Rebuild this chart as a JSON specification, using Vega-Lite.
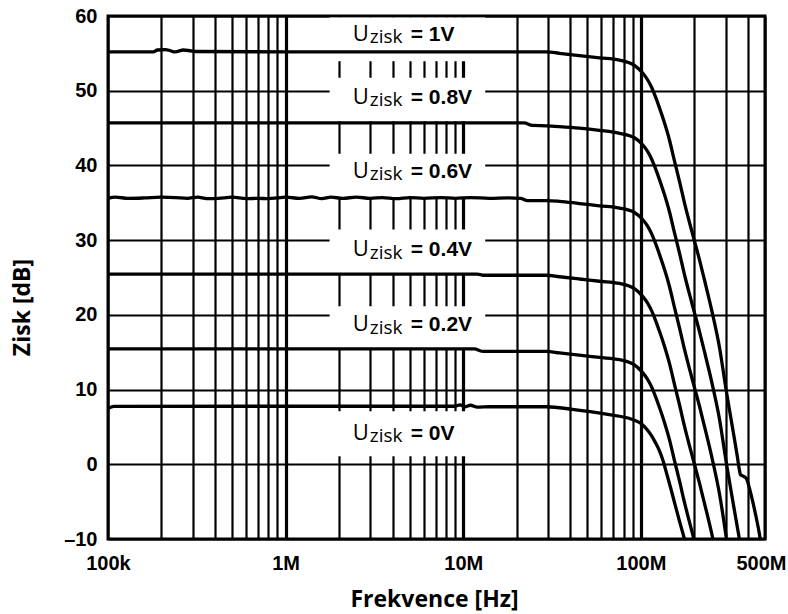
{
  "$schema": "https://vega.github.io/schema/vega-lite/v6.json",
  "autosize": {"type": "none"},
  "width": 657,
  "height": 523,
  "padding": {"left": 108, "top": 16, "right": 23, "bottom": 75},
  "background": "white",
  "config": {
    "view": {"stroke": "black", "strokeWidth": 3},
    "font": "Liberation Sans"
  },
  "datasets": {
    "curves": [
      {"s":"1V","f":100000,"g":55.2},{"s":"1V","f":180000,"g":55.2},{"s":"1V","f":190000,"g":55.45},{"s":"1V","f":210000,"g":55.5},{"s":"1V","f":225000,"g":55.35},{"s":"1V","f":235000,"g":55.2},{"s":"1V","f":250000,"g":55.3},{"s":"1V","f":265000,"g":55.45},{"s":"1V","f":290000,"g":55.35},{"s":"1V","f":310000,"g":55.25},{"s":"1V","f":1000000,"g":55.2},{"s":"1V","f":10000000,"g":55.2},{"s":"1V","f":29400000,"g":55.2},{"s":"1V","f":34800000,"g":55.0},{"s":"1V","f":45100000,"g":54.7},{"s":"1V","f":58500000,"g":54.4},{"s":"1V","f":75800000,"g":54.1},{"s":"1V","f":92000000,"g":53.4},{"s":"1V","f":102100000,"g":52.4},{"s":"1V","f":108900000,"g":51.5},{"s":"1V","f":114700000,"g":50.5},{"s":"1V","f":120800000,"g":49.2},{"s":"1V","f":127300000,"g":47.7},{"s":"1V","f":135800000,"g":45.7},{"s":"1V","f":144900000,"g":43.4},{"s":"1V","f":154600000,"g":40.6},{"s":"1V","f":164900000,"g":37.9},{"s":"1V","f":176000000,"g":35.0},{"s":"1V","f":187700000,"g":32.4},{"s":"1V","f":200300000,"g":29.9},{"s":"1V","f":213700000,"g":27.4},{"s":"1V","f":228000000,"g":24.7},{"s":"1V","f":252900000,"g":20.2},{"s":"1V","f":276900000,"g":15.7},{"s":"1V","f":303200000,"g":9.7},{"s":"1V","f":332000000,"g":4.2},{"s":"1V","f":350000000,"g":0.9},{"s":"1V","f":359000000,"g":-0.8},{"s":"1V","f":364000000,"g":-1.4},{"s":"1V","f":378000000,"g":-1.6},{"s":"1V","f":393000000,"g":-1.9},{"s":"1V","f":408600000,"g":-3.2},{"s":"1V","f":424600000,"g":-4.8},{"s":"1V","f":441400000,"g":-6.6},{"s":"1V","f":464800000,"g":-9.3},{"s":"1V","f":470000000,"g":-10},
      {"s":"0.8V","f":100000,"g":45.7},{"s":"0.8V","f":1000000,"g":45.7},{"s":"0.8V","f":10000000,"g":45.7},{"s":"0.8V","f":22000000,"g":45.7},{"s":"0.8V","f":24500000,"g":45.35},{"s":"0.8V","f":29400000,"g":45.3},{"s":"0.8V","f":34800000,"g":45.2},{"s":"0.8V","f":45100000,"g":45.0},{"s":"0.8V","f":58500000,"g":44.7},{"s":"0.8V","f":75800000,"g":44.3},{"s":"0.8V","f":92000000,"g":43.7},{"s":"0.8V","f":102100000,"g":42.8},{"s":"0.8V","f":108900000,"g":41.9},{"s":"0.8V","f":114700000,"g":40.9},{"s":"0.8V","f":120800000,"g":39.6},{"s":"0.8V","f":127300000,"g":38.1},{"s":"0.8V","f":135800000,"g":36.1},{"s":"0.8V","f":144900000,"g":33.8},{"s":"0.8V","f":154600000,"g":31.0},{"s":"0.8V","f":164900000,"g":28.3},{"s":"0.8V","f":176000000,"g":25.4},{"s":"0.8V","f":187700000,"g":22.8},{"s":"0.8V","f":200300000,"g":20.3},{"s":"0.8V","f":213700000,"g":17.8},{"s":"0.8V","f":228000000,"g":15.1},{"s":"0.8V","f":252900000,"g":10.6},{"s":"0.8V","f":276900000,"g":6.1},{"s":"0.8V","f":303200000,"g":0.1},{"s":"0.8V","f":332000000,"g":-5.4},{"s":"0.8V","f":358800000,"g":-10},
      {"s":"0.6V","f":100000,"g":35.6},{"s":"0.6V","f":110000,"g":35.75},{"s":"0.6V","f":130000,"g":35.6},{"s":"0.6V","f":160000,"g":35.65},{"s":"0.6V","f":200000,"g":35.75},{"s":"0.6V","f":240000,"g":35.7},{"s":"0.6V","f":280000,"g":35.6},{"s":"0.6V","f":320000,"g":35.75},{"s":"0.6V","f":360000,"g":35.55},{"s":"0.6V","f":420000,"g":35.6},{"s":"0.6V","f":500000,"g":35.75},{"s":"0.6V","f":600000,"g":35.55},{"s":"0.6V","f":700000,"g":35.6},{"s":"0.6V","f":800000,"g":35.55},{"s":"0.6V","f":900000,"g":35.65},{"s":"0.6V","f":1000000,"g":35.75},{"s":"0.6V","f":1200000,"g":35.6},{"s":"0.6V","f":1400000,"g":35.8},{"s":"0.6V","f":1600000,"g":35.55},{"s":"0.6V","f":1800000,"g":35.75},{"s":"0.6V","f":2100000,"g":35.6},{"s":"0.6V","f":2500000,"g":35.75},{"s":"0.6V","f":3000000,"g":35.6},{"s":"0.6V","f":3500000,"g":35.7},{"s":"0.6V","f":4200000,"g":35.55},{"s":"0.6V","f":5000000,"g":35.7},{"s":"0.6V","f":6000000,"g":35.6},{"s":"0.6V","f":7500000,"g":35.7},{"s":"0.6V","f":9000000,"g":35.6},{"s":"0.6V","f":11000000,"g":35.7},{"s":"0.6V","f":14000000,"g":35.6},{"s":"0.6V","f":18000000,"g":35.65},{"s":"0.6V","f":21000000,"g":35.6},{"s":"0.6V","f":23000000,"g":35.3},{"s":"0.6V","f":29400000,"g":35.3},{"s":"0.6V","f":34800000,"g":35.2},{"s":"0.6V","f":45100000,"g":34.9},{"s":"0.6V","f":58500000,"g":34.6},{"s":"0.6V","f":75800000,"g":34.3},{"s":"0.6V","f":92000000,"g":33.7},{"s":"0.6V","f":102100000,"g":32.8},{"s":"0.6V","f":108900000,"g":31.9},{"s":"0.6V","f":114700000,"g":30.9},{"s":"0.6V","f":120800000,"g":29.6},{"s":"0.6V","f":127300000,"g":28.1},{"s":"0.6V","f":135800000,"g":26.1},{"s":"0.6V","f":144900000,"g":23.8},{"s":"0.6V","f":154600000,"g":21.0},{"s":"0.6V","f":164900000,"g":18.3},{"s":"0.6V","f":176000000,"g":15.4},{"s":"0.6V","f":187700000,"g":12.8},{"s":"0.6V","f":200300000,"g":10.3},{"s":"0.6V","f":213700000,"g":7.8},{"s":"0.6V","f":228000000,"g":5.1},{"s":"0.6V","f":252900000,"g":0.6},{"s":"0.6V","f":276900000,"g":-3.9},{"s":"0.6V","f":303500000,"g":-10},
      {"s":"0.4V","f":100000,"g":25.45},{"s":"0.4V","f":1000000,"g":25.45},{"s":"0.4V","f":10000000,"g":25.45},{"s":"0.4V","f":12000000,"g":25.45},{"s":"0.4V","f":13000000,"g":25.3},{"s":"0.4V","f":29400000,"g":25.3},{"s":"0.4V","f":34800000,"g":25.1},{"s":"0.4V","f":45100000,"g":24.8},{"s":"0.4V","f":58500000,"g":24.5},{"s":"0.4V","f":75800000,"g":24.2},{"s":"0.4V","f":92000000,"g":23.5},{"s":"0.4V","f":102100000,"g":22.5},{"s":"0.4V","f":108900000,"g":21.6},{"s":"0.4V","f":114700000,"g":20.6},{"s":"0.4V","f":120800000,"g":19.3},{"s":"0.4V","f":127300000,"g":17.8},{"s":"0.4V","f":135800000,"g":15.8},{"s":"0.4V","f":144900000,"g":13.5},{"s":"0.4V","f":154600000,"g":10.7},{"s":"0.4V","f":164900000,"g":8.0},{"s":"0.4V","f":176000000,"g":5.1},{"s":"0.4V","f":187700000,"g":2.5},{"s":"0.4V","f":200300000,"g":0.0},{"s":"0.4V","f":213700000,"g":-2.5},{"s":"0.4V","f":228000000,"g":-5.2},{"s":"0.4V","f":252900000,"g":-9.7},{"s":"0.4V","f":254500000,"g":-10},
      {"s":"0.2V","f":100000,"g":15.45},{"s":"0.2V","f":1000000,"g":15.45},{"s":"0.2V","f":10000000,"g":15.45},{"s":"0.2V","f":11500000,"g":15.45},{"s":"0.2V","f":13000000,"g":15.1},{"s":"0.2V","f":29400000,"g":15.1},{"s":"0.2V","f":34800000,"g":14.9},{"s":"0.2V","f":45100000,"g":14.6},{"s":"0.2V","f":58500000,"g":14.3},{"s":"0.2V","f":75800000,"g":14.0},{"s":"0.2V","f":92000000,"g":13.3},{"s":"0.2V","f":102100000,"g":12.3},{"s":"0.2V","f":108900000,"g":11.4},{"s":"0.2V","f":114700000,"g":10.4},{"s":"0.2V","f":120800000,"g":9.1},{"s":"0.2V","f":127300000,"g":7.6},{"s":"0.2V","f":135800000,"g":5.6},{"s":"0.2V","f":144900000,"g":3.3},{"s":"0.2V","f":154600000,"g":0.5},{"s":"0.2V","f":164900000,"g":-2.2},{"s":"0.2V","f":176000000,"g":-5.1},{"s":"0.2V","f":187700000,"g":-7.7},{"s":"0.2V","f":199000000,"g":-10},
      {"s":"0V","f":100000,"g":7.45},{"s":"0V","f":108000,"g":7.75},{"s":"0V","f":1000000,"g":7.77},{"s":"0V","f":9000000,"g":7.77},{"s":"0V","f":9600000,"g":7.95},{"s":"0V","f":10200000,"g":7.7},{"s":"0V","f":11000000,"g":7.9},{"s":"0V","f":12000000,"g":7.65},{"s":"0V","f":14000000,"g":7.7},{"s":"0V","f":29400000,"g":7.7},{"s":"0V","f":41200000,"g":7.35},{"s":"0V","f":63800000,"g":6.7},{"s":"0V","f":89700000,"g":6.0},{"s":"0V","f":102100000,"g":5.3},{"s":"0V","f":108900000,"g":4.6},{"s":"0V","f":114300000,"g":3.9},{"s":"0V","f":120800000,"g":2.9},{"s":"0V","f":127300000,"g":1.8},{"s":"0V","f":132800000,"g":0.6},{"s":"0V","f":140000000,"g":-1.3},{"s":"0V","f":148100000,"g":-3.4},{"s":"0V","f":157000000,"g":-5.7},{"s":"0V","f":165000000,"g":-7.6},{"s":"0V","f":176000000,"g":-10}
    ],
    "boxes": [
      {"f":1769000,"f2":13300000,"g":59.8,"g2":53.95},
      {"f":1769000,"f2":13300000,"g":51.73,"g2":45.92},
      {"f":1769000,"f2":13300000,"g":41.56,"g2":35.67},
      {"f":1769000,"f2":13300000,"g":31.42,"g2":25.4},
      {"f":1769000,"f2":13300000,"g":21.16,"g2":15.36},
      {"f":1769000,"f2":13300000,"g":7.1,"g2":1.08}
    ],
    "labels": [
      {"f":5000000,"g":56.72,"t":"= 1V"},
      {"f":5000000,"g":48.25,"t":"= 0.8V"},
      {"f":5000000,"g":38.34,"t":"= 0.6V"},
      {"f":5000000,"g":27.85,"t":"= 0.4V"},
      {"f":5000000,"g":17.81,"t":"= 0.2V"},
      {"f":5000000,"g":3.31,"t":"= 0V"}
    ]
  },
  "encoding": {
    "x": {
      "field": "f", "type": "quantitative",
      "scale": {"type": "log", "domain": [100000, 500000000], "nice": false, "zero": false},
      "axis": {
        "title": "Frekvence [Hz]",
        "values": [100000,200000,300000,400000,500000,600000,700000,800000,900000,1000000,2000000,3000000,4000000,5000000,6000000,7000000,8000000,9000000,10000000,20000000,30000000,40000000,50000000,60000000,70000000,80000000,90000000,100000000,200000000,300000000,400000000,500000000],
        "labelExpr": "datum.value == 100000 ? '100k' : datum.value == 1000000 ? '1M' : datum.value == 10000000 ? '10M' : datum.value == 100000000 ? '100M' : datum.value == 500000000 ? '500M' : ''",
        "labelOverlap": false,
        "labelBound": false,
        "labelFlush": false,
        "labelFont": "Liberation Sans",
        "labelFontWeight": "bold",
        "labelFontSize": 20,
        "labelColor": "black",
        "labelPadding": 14,
        "labelBaseline": "top",
        "labelOffset": {"condition": {"test": "datum.value == 500000000", "value": -4}, "value": 0},
        "ticks": false,
        "tickSize": 0,
        "domain": false,
        "grid": true,
        "gridColor": "black",
        "gridOpacity": 1,
        "gridWidth": {"condition": {"test": "datum.value == 1000000 || datum.value == 10000000 || datum.value == 100000000", "value": 3.2}, "value": 2.2},
        "titleFont": "Open Sans",
        "titleFontWeight": "bold",
        "titleFontSize": 23,
        "titleColor": "black",
        "titleBaseline": "middle",
        "titleAlign": "center",
        "titleX": 326,
        "titleY": 60
      }
    },
    "y": {
      "field": "g", "type": "quantitative",
      "scale": {"domain": [-10, 60], "nice": false, "zero": false},
      "axis": {
        "title": "Zisk [dB]",
        "values": [-10,0,10,20,30,40,50,60],
        "labelExpr": "datum.value < 0 ? '\u2013' + abs(datum.value) : datum.label",
        "labelFont": "Liberation Sans",
        "labelFontWeight": "bold",
        "labelFontSize": 20,
        "labelColor": "black",
        "labelPadding": 11,
        "labelOverlap": false,
        "labelBound": false,
        "labelFlush": false,
        "ticks": false,
        "tickSize": 0,
        "domain": false,
        "grid": true,
        "gridColor": "black",
        "gridOpacity": 1,
        "gridWidth": 2.2,
        "titleFont": "Open Sans",
        "titleFontWeight": "bold",
        "titleFontSize": 23,
        "titleColor": "black",
        "titleAngle": -90,
        "titleBaseline": "middle",
        "titleAlign": "center",
        "titleX": -86,
        "titleY": 291
      }
    }
  },
  "layer": [
    {
      "data": {"name": "boxes"},
      "mark": {"type": "rect", "fill": "white", "stroke": null},
      "encoding": {"x2": {"field": "f2"}, "y2": {"field": "g2"}}
    },
    {
      "data": {"name": "curves"},
      "mark": {"type": "line", "color": "black", "strokeWidth": 3.3, "interpolate": "monotone", "clip": true},
      "encoding": {"detail": {"field": "s"}}
    },
    {
      "data": {"name": "labels"},
      "mark": {"type": "text", "text": "U", "font": "Open Sans", "fontSize": 22, "align": "left", "baseline": "alphabetic", "dx": -57, "color": "black"}
    },
    {
      "data": {"name": "labels"},
      "mark": {"type": "text", "text": "zisk", "font": "Open Sans", "fontSize": 19, "align": "left", "baseline": "alphabetic", "dx": -40, "dy": 2.5, "color": "black"}
    },
    {
      "data": {"name": "labels"},
      "mark": {"type": "text", "font": "Liberation Sans", "fontWeight": "bold", "fontSize": 21, "align": "left", "baseline": "alphabetic", "dx": 1, "color": "black"},
      "encoding": {"text": {"field": "t"}}
    }
  ]
}
